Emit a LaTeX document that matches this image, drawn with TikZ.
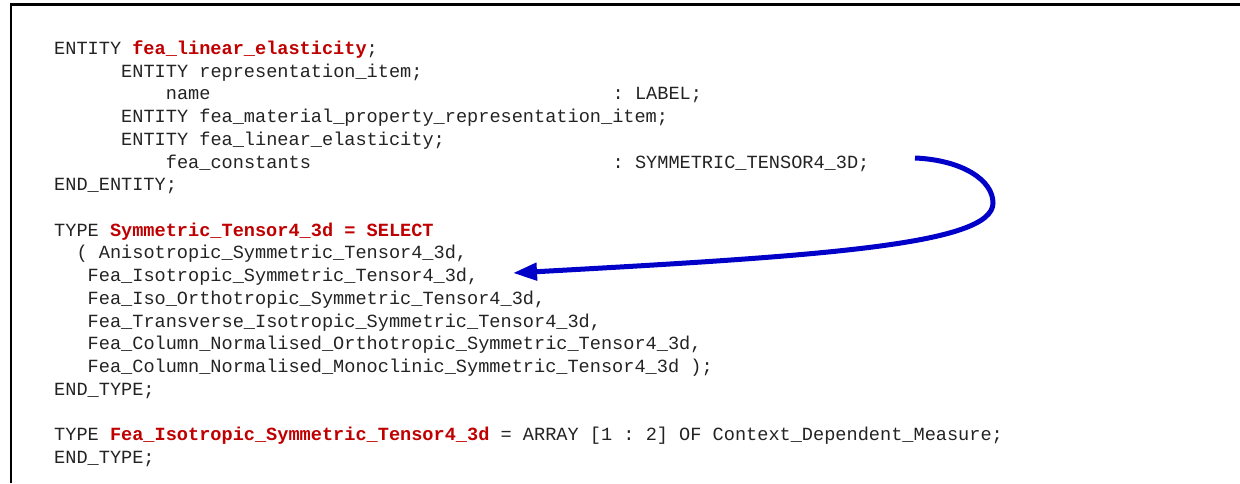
\documentclass[tikz,border=0pt]{standalone}
\usepackage{fontspec}
\setmonofont{Liberation Mono}
\usetikzlibrary{arrows.meta}
\definecolor{codegray}{RGB}{35,35,35}
\definecolor{kwred}{RGB}{192,0,0}
\definecolor{arrowblue}{RGB}{0,0,200}
\newcommand{\kwd}[1]{\textcolor{kwred}{\bfseries #1}}
\begin{document}
\begin{tikzpicture}[x=1pt,y=-1pt,
  code/.style={anchor=base west, inner sep=0pt, font=\ttfamily\fontsize{18.6}{22.7}\selectfont, text=codegray},
  frameline/.style={line width=2.6pt, draw=black},
  link/.style={line width=5pt, draw=arrowblue, -{Triangle[length=24pt,width=17pt]}}]
\useasboundingbox (0,0) rectangle (1240,483);
\def\cw{11.17}
\def\xo{54}
\def\yo{54.5}
\def\lh{22.72}
\draw[frameline] (11,483) -- (11,4.5) -- (1240,4.5);
% ENTITY block
\node[code] (l1)  at ({\xo},{\yo}) {ENTITY \kwd{fea\_linear\_elasticity};};
\node[code] (l2)  at ({\xo+6*\cw},{\yo+1*\lh}) {ENTITY representation\_item;};
\node[code] (l3a) at ({\xo+10*\cw},{\yo+2*\lh}) {name};
\node[code] (l3b) at ({\xo+50*\cw},{\yo+2*\lh}) {: LABEL;};
\node[code] (l4)  at ({\xo+6*\cw},{\yo+3*\lh}) {ENTITY fea\_material\_property\_representation\_item;};
\node[code] (l5)  at ({\xo+6*\cw},{\yo+4*\lh}) {ENTITY fea\_linear\_elasticity;};
\node[code] (l6a) at ({\xo+10*\cw},{\yo+5*\lh}) {fea\_constants};
\node[code] (l6b) at ({\xo+50*\cw},{\yo+5*\lh}) {: SYMMETRIC\_TENSOR4\_3D;};
\node[code] (l7)  at ({\xo},{\yo+6*\lh}) {END\_ENTITY;};
% SELECT type
\node[code] (l9)  at ({\xo},{\yo+8*\lh}) {TYPE \kwd{Symmetric\_Tensor4\_3d = SELECT}};
\node[code] (l10) at ({\xo+2*\cw},{\yo+9*\lh}) {( Anisotropic\_Symmetric\_Tensor4\_3d,};
\node[code] (l11) at ({\xo+3*\cw},{\yo+10*\lh}) {Fea\_Isotropic\_Symmetric\_Tensor4\_3d,};
\node[code] (l12) at ({\xo+3*\cw},{\yo+11*\lh}) {Fea\_Iso\_Orthotropic\_Symmetric\_Tensor4\_3d,};
\node[code] (l13) at ({\xo+3*\cw},{\yo+12*\lh}) {Fea\_Transverse\_Isotropic\_Symmetric\_Tensor4\_3d,};
\node[code] (l14) at ({\xo+3*\cw},{\yo+13*\lh}) {Fea\_Column\_Normalised\_Orthotropic\_Symmetric\_Tensor4\_3d,};
\node[code] (l15) at ({\xo+3*\cw},{\yo+14*\lh}) {Fea\_Column\_Normalised\_Monoclinic\_Symmetric\_Tensor4\_3d );};
\node[code] (l16) at ({\xo},{\yo+15*\lh}) {END\_TYPE;};
% ARRAY type
\node[code] (l18) at ({\xo},{\yo+17*\lh}) {TYPE \kwd{Fea\_Isotropic\_Symmetric\_Tensor4\_3d} = ARRAY [1 : 2] OF Context\_Dependent\_Measure;};
\node[code] (l19) at ({\xo},{\yo+18*\lh}) {END\_TYPE;};
% connector
\coordinate (src) at (915,158);
\coordinate (bend) at (993,203);
\coordinate (dst) at (513,273);
\draw[link] (src) .. controls (962,160) and (993,180) .. (bend)
            .. controls (993,245) and (820,256) .. (dst);
\end{tikzpicture}
\end{document}
